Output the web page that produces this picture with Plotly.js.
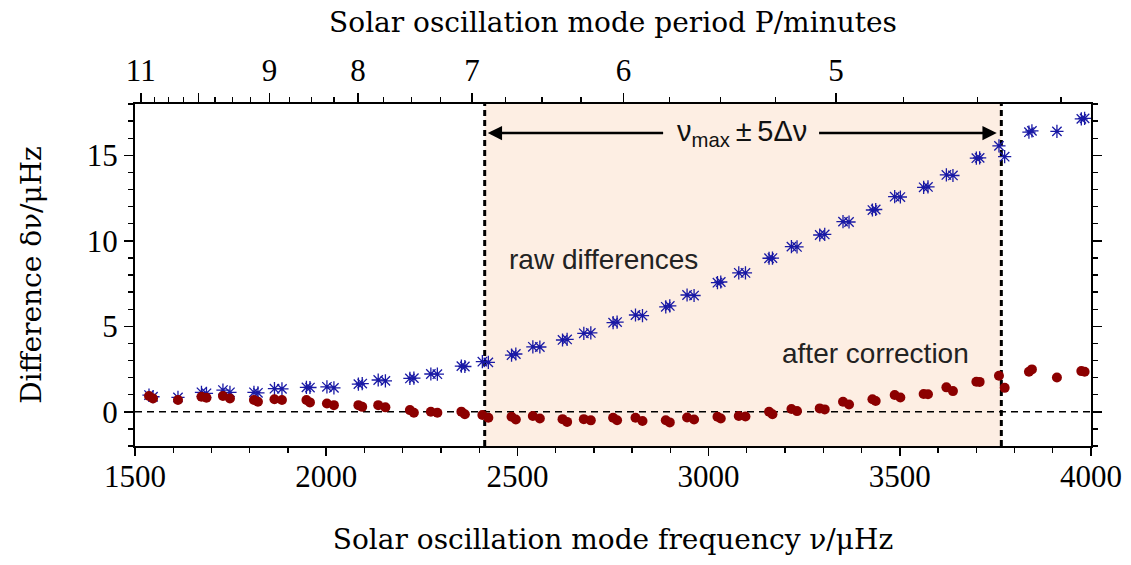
<!DOCTYPE html>
<html>
<head>
<meta charset="utf-8">
<script src="https://cdn.plot.ly/plotly-3.0.1.min.js"></script>
<style>html,body{margin:0;padding:0;background:#fff;}#chart{width:1131px;height:565px;}</style>
</head>
<body>
<div id="chart"></div>
<script>
// Mode frequencies (μHz)
const freq = [1536.6,1547.1,1612.4,1673.8,1686.9,1730.0,1748.3,1811.1,1821.5,1864.7,1884.3,1948.3,1957.5,2001.9,2020.2,2084.2,2094.2,2136.0,2154.8,2218.9,2229.3,2273.7,2290.7,2353.5,2362.6,2408.4,2424.0,2484.7,2495.9,2540.4,2558.7,2618.0,2630.0,2673.7,2692.0,2750.3,2760.7,2808.8,2827.1,2888.0,2898.5,2943.7,2962.0,3023.2,3031.8,3078.9,3096.4,3158.1,3167.0,3216.6,3231.2,3290.6,3303.7,3351.5,3367.2,3428.4,3437.0,3486.6,3501.5,3562.4,3573.7,3621.8,3639.0,3700.2,3708.8,3759.3,3774.2,3837.7,3845.5,3910.9,3974.7,3983.3];
// Raw differences (μHz)
const rawDiff = [0.98,0.88,0.84,1.14,1.08,1.27,1.14,1.14,1.11,1.35,1.34,1.43,1.42,1.46,1.40,1.62,1.65,1.86,1.81,1.95,1.97,2.21,2.20,2.67,2.65,2.93,2.89,3.32,3.38,3.80,3.79,4.20,4.23,4.59,4.61,5.21,5.25,5.66,5.63,6.14,6.19,6.83,6.80,7.55,7.59,8.13,8.12,8.98,8.99,9.66,9.64,10.34,10.37,11.12,11.10,11.80,11.83,12.58,12.56,13.13,13.15,13.85,13.82,14.83,14.85,15.55,14.92,16.35,16.43,16.40,17.13,17.16];
// Differences after correction (μHz)
const corrDiff = [0.92,0.78,0.69,0.88,0.82,0.92,0.78,0.69,0.59,0.73,0.69,0.69,0.55,0.49,0.39,0.39,0.29,0.39,0.26,0.10,-0.06,0.00,-0.06,0.01,-0.14,-0.19,-0.35,-0.29,-0.45,-0.25,-0.39,-0.43,-0.59,-0.43,-0.50,-0.35,-0.49,-0.35,-0.54,-0.49,-0.62,-0.33,-0.45,-0.29,-0.39,-0.25,-0.27,0.00,-0.14,0.16,0.04,0.20,0.14,0.59,0.43,0.73,0.63,0.98,0.84,1.04,1.03,1.43,1.21,1.76,1.75,2.11,1.40,2.34,2.48,2.01,2.38,2.34];
// Top axis: periods in minutes
const periodMajor = [11,10,9,8,7,6,5];
const periodLabels = ['11','','9','8','7','6','5'];
const periodMinor = [10.75,10.5,10.25,9.75,9.5,9.25,8.75,8.5,8.25,7.75,7.5,7.25,6.75,6.5,6.25,5.75,5.5,5.25,4.75,4.5,4.25];
// Frequency window nu_max +/- 5 Delta nu
const nuMax = 3090, deltaNu = 135.1;
const winLo = nuMax - 5*deltaNu, winHi = nuMax + 5*deltaNu;

const toFreq = p => 1e6/(60*p);
const serif = 'Liberation Serif, Times New Roman, serif';
const titleSerif = 'DejaVu Serif, Liberation Serif, serif';
const sans = 'Liberation Sans, Arial, sans-serif';

const traces = [
  {x: freq, y: rawDiff, type: 'scatter', mode: 'markers', name: 'raw',
   marker: {symbol: 'asterisk-open', size: 11, color: 'rgb(25,25,165)', line: {color: 'rgb(25,25,165)', width: 1.3}},
   hoverinfo: 'skip', showlegend: false},
  {x: freq, y: corrDiff, type: 'scatter', mode: 'markers', name: 'corrected',
   marker: {symbol: 'circle', size: 10, color: 'rgb(140,0,0)'},
   hoverinfo: 'skip', showlegend: false},
  {x: [1500], y: [null], xaxis: 'x2', yaxis: 'y', type: 'scatter', mode: 'markers',
   hoverinfo: 'skip', showlegend: false}
];

const layout = {
  width: 1131, height: 565,
  margin: {l: 135, r: 40, t: 104, b: 119},
  paper_bgcolor: '#fff', plot_bgcolor: 'rgba(0,0,0,0)',
  font: {family: serif, color: '#000', size: 31},
  showlegend: false,
  xaxis: {
    range: [1500, 4000], tick0: 1500, dtick: 500,
    ticks: 'outside', ticklen: 8, tickwidth: 1.5, tickcolor: '#000',
    minor: {dtick: 100, ticks: 'outside', ticklen: 5, tickwidth: 1.3, tickcolor: '#000'},
    showline: true, linewidth: 2, linecolor: '#000', mirror: false,
    showgrid: false, zeroline: false,
    tickfont: {family: serif, size: 31}, ticklabelstandoff: -6,
    title: {text: 'Solar oscillation mode frequency ν/μHz', font: {family: titleSerif, size: 28}, standoff: 36}
  },
  xaxis2: {
    overlaying: 'x', side: 'top', anchor: 'y',
    range: [1500, 4000],
    tickmode: 'array', tickvals: periodMajor.map(toFreq), ticktext: periodLabels,
    ticks: 'outside', ticklen: 9, tickwidth: 1.5, tickcolor: '#000',
    minor: {tickmode: 'array', tickvals: periodMinor.map(toFreq), ticks: 'outside', ticklen: 5, tickwidth: 1.3, tickcolor: '#000'},
    showline: true, linewidth: 2, linecolor: '#000',
    showgrid: false, zeroline: false,
    tickfont: {family: serif, size: 31},
    title: {text: 'Solar oscillation mode period P/minutes', font: {family: titleSerif, size: 28}, standoff: 12}
  },
  yaxis: {
    range: [-2, 18], tick0: 0, dtick: 5,
    ticks: 'outside', ticklen: 9, tickwidth: 1.5, tickcolor: '#000',
    minor: {dtick: 1, ticks: 'outside', ticklen: 5, tickwidth: 1.3, tickcolor: '#000'},
    showline: true, linewidth: 2, linecolor: '#000', mirror: 'ticks',
    showgrid: false, zeroline: false,
    tickfont: {family: serif, size: 31},
    title: {text: 'Difference δν/μHz', font: {family: titleSerif, size: 28}, standoff: 37}
  },
  shapes: [
    {type: 'rect', xref: 'x', yref: 'paper', x0: winLo, x1: winHi, y0: 0, y1: 1,
     fillcolor: 'rgb(253,238,227)', line: {width: 0}, layer: 'below'},
    {type: 'line', xref: 'paper', yref: 'y', x0: 0, x1: 1, y0: 0, y1: 0,
     line: {color: '#000', width: 1.5, dash: '7px,5px'}, layer: 'below'},
    {type: 'line', xref: 'x', yref: 'paper', x0: winLo, x1: winLo, y0: 0, y1: 1,
     line: {color: '#000', width: 3, dash: '6px,4px'}, layer: 'below'},
    {type: 'line', xref: 'x', yref: 'paper', x0: winHi, x1: winHi, y0: 0, y1: 1,
     line: {color: '#000', width: 3, dash: '6px,4px'}, layer: 'below'}
  ],
  annotations: [
    {x: winLo + 8, y: 16.3, ax: 2885, ay: 16.3, xref: 'x', yref: 'y', axref: 'x', ayref: 'y',
     text: '', showarrow: true, arrowhead: 2, arrowsize: 1.1, arrowwidth: 2.6, arrowcolor: '#000'},
    {x: winHi - 12, y: 16.3, ax: 3285, ay: 16.3, xref: 'x', yref: 'y', axref: 'x', ayref: 'y',
     text: '', showarrow: true, arrowhead: 2, arrowsize: 1.1, arrowwidth: 2.6, arrowcolor: '#000'},
    {x: 3088, y: 16.3, xref: 'x', yref: 'y', showarrow: false,
     text: 'ν<sub>max</sub>\u2009±\u20095Δν', font: {family: sans, size: 29, color: '#111'}},
    {x: 2472, y: 8.88, xref: 'x', yref: 'y', showarrow: false, xanchor: 'left',
     text: 'raw differences', font: {family: sans, size: 28, color: '#222'}},
    {x: 3186, y: 3.43, xref: 'x', yref: 'y', showarrow: false, xanchor: 'left',
     text: 'after correction', font: {family: sans, size: 28, color: '#222'}}
  ]
};

Plotly.newPlot('chart', traces, layout, {displayModeBar: false, staticPlot: true});
</script>
</body>
</html>
